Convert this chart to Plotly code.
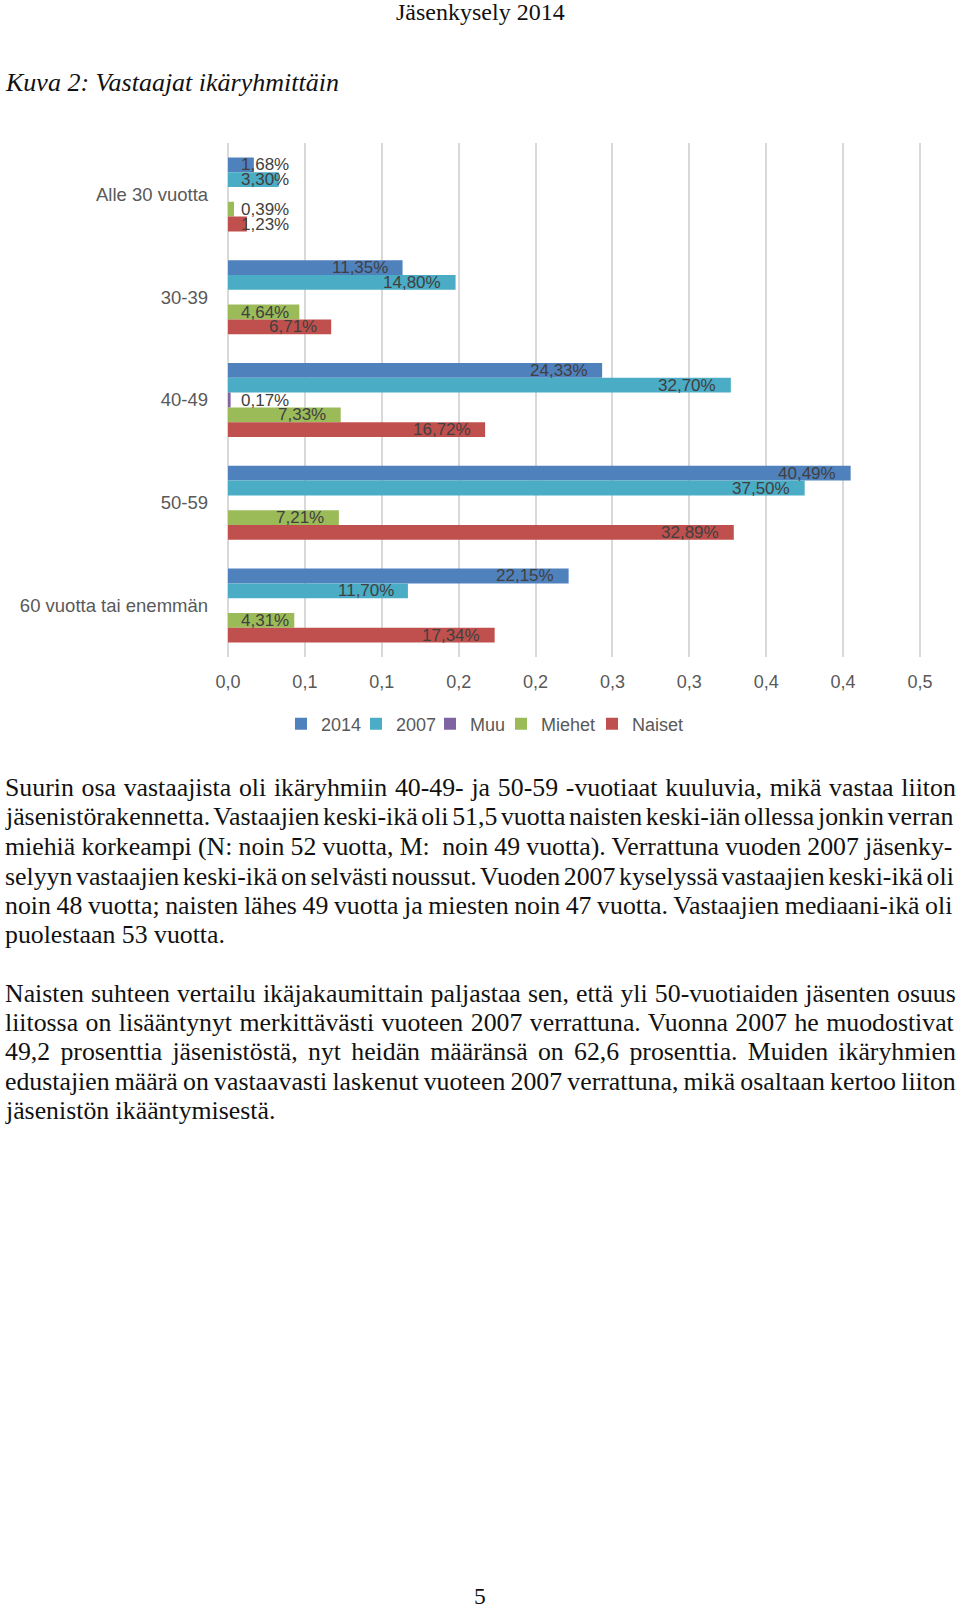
import plotly.graph_objects as go

# ---------------- data ----------------
categories = ["Alle 30 vuotta", "30-39", "40-49", "50-59", "60 vuotta tai enemmän"]
series_names = ["2014", "2007", "Muu", "Miehet", "Naiset"]
v2014 = [0.0168, 0.1135, 0.2433, 0.4049, 0.2215]
v2007 = [0.0330, 0.1480, 0.3270, 0.3750, 0.1170]
vmuu = [None, None, 0.0017, None, None]
vmiehet = [0.0039, 0.0464, 0.0733, 0.0721, 0.0431]
vnaiset = [0.0123, 0.0671, 0.1672, 0.3289, 0.1734]
x_tickvals = [0.0, 0.05, 0.10, 0.15, 0.20, 0.25, 0.30, 0.35, 0.40, 0.45]
x_ticktext = ["0,0", "0,1", "0,1", "0,2", "0,2", "0,3", "0,3", "0,4", "0,4", "0,5"]

header_text = "Jäsenkysely 2014"
caption_text = "Kuva 2: Vastaajat ikäryhmittäin"
para1 = [
    "Suurin osa vastaajista oli ikäryhmiin 40-49- ja 50-59 -vuotiaat kuuluvia, mikä vastaa liiton",
    "jäsenistörakennetta. Vastaajien keski-ikä oli 51,5 vuotta naisten keski-iän ollessa jonkin verran",
    "miehiä korkeampi (N: noin 52 vuotta, M:\u00a0 noin 49 vuotta). Verrattuna vuoden 2007 jäsenky-",
    "selyyn vastaajien keski-ikä on selvästi noussut. Vuoden 2007 kyselyssä vastaajien keski-ikä oli",
    "noin 48 vuotta; naisten lähes 49 vuotta ja miesten noin 47 vuotta. Vastaajien mediaani-ikä oli",
    "puolestaan 53 vuotta.",
]
para2 = [
    "Naisten suhteen vertailu ikäjakaumittain paljastaa sen, että yli 50-vuotiaiden jäsenten osuus",
    "liitossa on lisääntynyt merkittävästi vuoteen 2007 verrattuna. Vuonna 2007 he muodostivat",
    "49,2 prosenttia jäsenistöstä, nyt heidän määränsä on 62,6 prosenttia. Muiden ikäryhmien",
    "edustajien määrä on vastaavasti laskenut vuoteen 2007 verrattuna, mikä osaltaan kertoo liiton",
    "jäsenistön ikääntymisestä.",
]
page_number = "5"

# ---------------- style / geometry ----------------
W, H = 960, 1609
colors = ["#4F81BD", "#4BACC6", "#8064A2", "#9BBB59", "#C0504D"]
legend_widths = [30, 29, 26, 46, 52]
series_values = [v2014, v2007, vmuu, vmiehet, vnaiset]
PLOT_L, PLOT_R = 228, 920
PLOT_T, PLOT_B = 143, 657
BARGAP = 0.28
X_MAX = 0.45
XPAD = 0.0008
CHART_FONT = "Liberation Sans, Arial, sans-serif"
SERIF = "Liberation Serif, Times New Roman, serif"
px_per_unit = (PLOT_R - PLOT_L) / X_MAX
dom_l = PLOT_L - XPAD * px_per_unit
dom_r = PLOT_R + XPAD * px_per_unit

fig = go.Figure()
cat_pos = list(range(len(categories)))
for name, vals, col, lw in zip(series_names, series_values, colors, legend_widths):
    fig.add_trace(go.Bar(
        name=name, y=cat_pos, x=vals, orientation="h",
        marker=dict(color=col, line=dict(width=0)),
        legendwidth=lw,
        hoverinfo="skip",
    ))

# data labels (inside end, clamped to the start of the plot area)
label_size = 17
def label_w(s):
    w = 0
    for ch in s:
        if ch.isdigit():
            w += 0.556
        elif ch == ",":
            w += 0.278
        elif ch == "%":
            w += 0.889
        else:
            w += 0.5
    return w * label_size

annotations = []
nser = len(series_names)
bw = (1 - BARGAP) / nser
for k, vals in enumerate(series_values):
    for i, v in enumerate(vals):
        if v is None:
            continue
        txt = f"{v * 100:.2f}%".replace(".", ",")
        ypos = i - (1 - BARGAP) / 2 + (k + 0.5) * bw
        tw = label_w(txt)
        end_px = v * px_per_unit
        lf = dict(family=CHART_FONT, size=label_size, color="#404040")
        if end_px - 14.4 - tw >= 13.5:
            annotations.append(dict(x=v, y=ypos, xref="x", yref="y", text=txt,
                                    xanchor="right", yanchor="middle", align="right",
                                    xshift=-13.4, showarrow=False, borderpad=0, font=lf))
        else:
            annotations.append(dict(x=0, y=ypos, xref="x", yref="y", text=txt,
                                    xanchor="left", yanchor="middle", align="left",
                                    xshift=12.5, showarrow=False, borderpad=0, font=lf))

def py(ypix):
    return 1 - ypix / H

# Times / Liberation Serif advance widths (per 1000 em) for justification
TW = dict(a=444, b=500, c=444, d=500, e=444, f=333, g=500, h=500, i=278, j=278, k=500, l=278,
          m=778, n=500, o=500, p=500, q=500, r=333, s=389, t=278, u=500, v=500, w=722, x=500,
          y=500, z=444, A=722, B=667, C=667, D=722, E=611, F=556, G=722, H=722, I=333, J=389,
          K=722, L=611, M=889, N=722, O=722, P=556, Q=722, R=667, S=556, T=611, U=722, V=722,
          W=944, X=722, Y=722, Z=611)
TW.update({"ä": 444, "ö": 500, "å": 444, "Ä": 722, "Ö": 722, " ": 250, "\u00a0": 250, ",": 250,
           ".": 250, ";": 278, ":": 278, "-": 333, "(": 333, ")": 333, "%": 833})
for dgt in "0123456789":
    TW[dgt] = 500

BODY_SIZE = 25.8
BODY_L, BODY_R = 4, 955

def justified(line, size, last):
    if last:
        return line
    nat = sum(TW.get(ch, 500) for ch in line) * size / 1000.0
    nsp = sum(1 for ch in line if ch in (" ", "\u00a0"))
    ws = (BODY_R - BODY_L - nat) / max(nsp, 1)
    return f'<span style="word-spacing:{ws:.2f}px">{line}</span>'

# page texts
annotations.append(dict(x=480 / W, y=py(12), xref="paper", yref="paper", text=header_text,
                        xanchor="center", yanchor="middle", showarrow=False, borderpad=0,
                        font=dict(family=SERIF, size=24, color="#111111")))
annotations.append(dict(x=BODY_L / W, y=py(82), xref="paper", yref="paper",
                        text="<i>" + caption_text + "</i>", align="left",
                        xanchor="left", yanchor="middle", showarrow=False, borderpad=0,
                        font=dict(family=SERIF, size=26, color="#111111")))
p1_y = [788, 817, 846, 876, 905, 934]
p2_y = [993, 1022, 1051, 1081, 1110]
for para, ys in ((para1, p1_y), (para2, p2_y)):
    for j, (line, yy) in enumerate(zip(para, ys)):
        annotations.append(dict(x=BODY_L / W, y=py(yy), xref="paper", yref="paper",
                                text=justified(line, BODY_SIZE, j == len(para) - 1),
                                align="left", xanchor="left", yanchor="middle",
                                showarrow=False, borderpad=0,
                                font=dict(family=SERIF, size=BODY_SIZE, color="#111111")))
annotations.append(dict(x=480 / W, y=0, xref="paper", yref="paper", text=page_number,
                        xanchor="center", yanchor="bottom", showarrow=False, borderpad=0,
                        borderwidth=0,
                        font=dict(family=SERIF, size=23.5, color="#111111")))

fig.update_layout(
    width=W, height=H,
    margin=dict(l=0, r=0, t=0, b=0, pad=0, autoexpand=False),
    paper_bgcolor="white", plot_bgcolor="white",
    barmode="group", bargap=BARGAP, bargroupgap=0,
    showlegend=True,
    legend=dict(orientation="h", x=281 / W, y=py(724), xanchor="left", yanchor="middle",
                font=dict(family=CHART_FONT, size=18, color="#595959"),
                itemclick=False, itemdoubleclick=False, traceorder="normal"),
    xaxis=dict(domain=[dom_l / W, dom_r / W], range=[-XPAD, X_MAX + XPAD],
               tickvals=x_tickvals, ticktext=x_ticktext,
               showgrid=True, gridcolor="#D9D9D9", gridwidth=1.5,
               zeroline=False, showline=False,
               ticks="outside", ticklen=8, tickcolor="rgba(0,0,0,0)",
               tickfont=dict(family=CHART_FONT, size=18, color="#595959"),
               fixedrange=True),
    yaxis=dict(domain=[py(PLOT_B), py(PLOT_T)], range=[len(categories) - 0.5, -0.5],
               tickvals=cat_pos, ticktext=categories,
               showgrid=False, zeroline=False, showline=False,
               ticks="outside", ticklen=14, tickcolor="rgba(0,0,0,0)",
               tickfont=dict(family=CHART_FONT, size=18.5, color="#595959"),
               fixedrange=True),
    annotations=annotations,
)

fig.write_html(
    "out.html",
    config={"displayModeBar": False},
    post_script="document.body.style.margin='0';document.body.style.padding='0';"
                "document.body.style.overflow='hidden';",
)
